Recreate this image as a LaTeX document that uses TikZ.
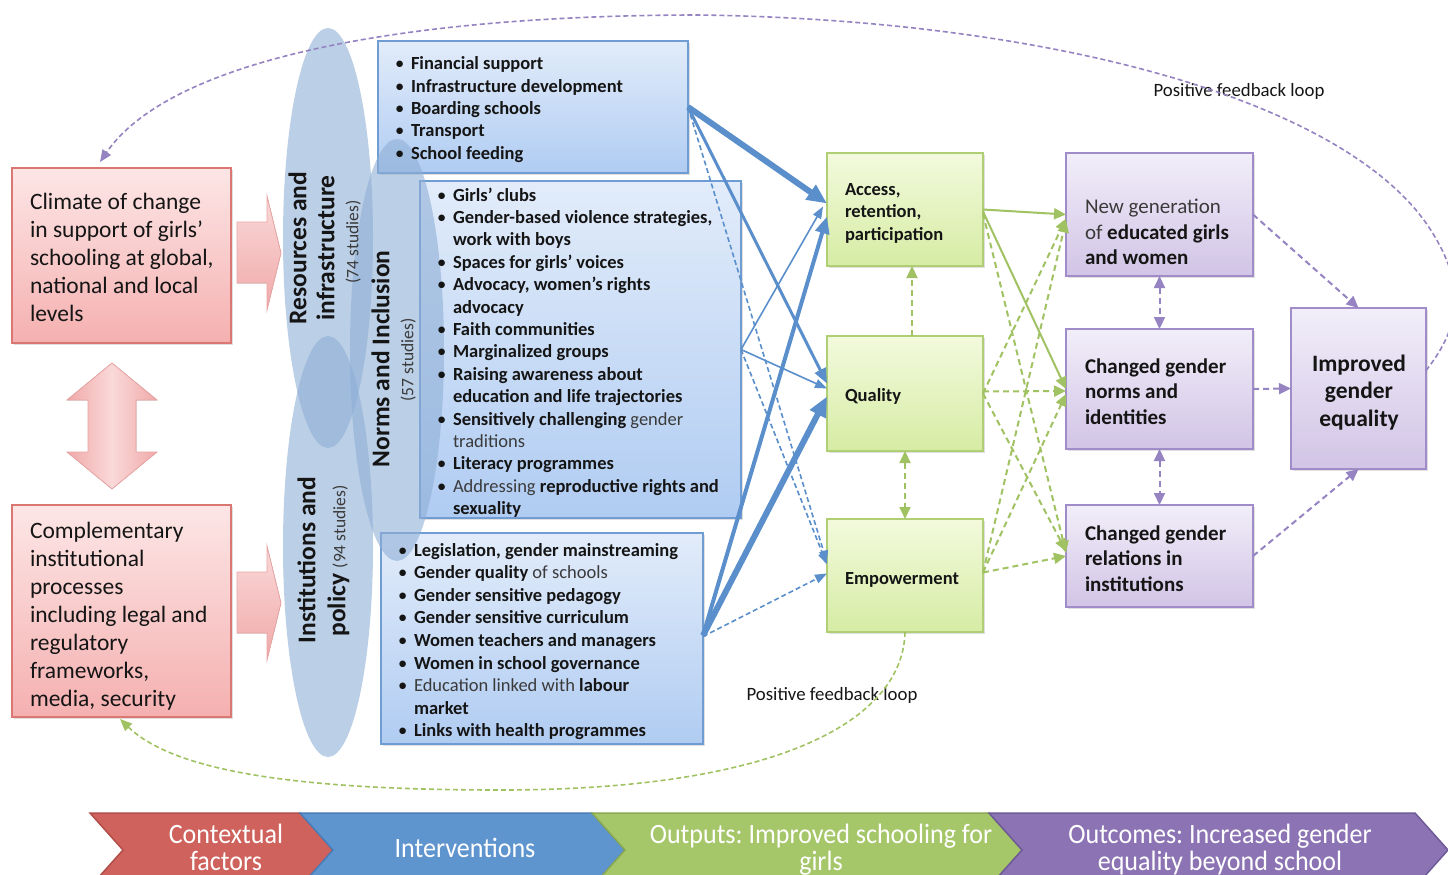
\documentclass[tikz,border=0pt]{standalone}
\usepackage{fontspec}
\setmainfont{Carlito}
\newfontfamily\chfont{Carlito}[FakeStretch=0.93]
\usetikzlibrary{arrows.meta,shadows,calc}
\frenchspacing

\definecolor{redT}{HTML}{FDE6E6}
\definecolor{redB}{HTML}{F5B0B0}
\definecolor{redbd}{HTML}{DA7773}
\definecolor{blueT}{HTML}{E2ECFA}
\definecolor{blueB}{HTML}{B0CCF2}
\definecolor{bluebd}{HTML}{6F9DD3}
\definecolor{ellc}{HTML}{8FAFD6}
\definecolor{greenT}{HTML}{F3FADD}
\definecolor{greenB}{HTML}{D6ECA4}
\definecolor{greenbd}{HTML}{B0CF74}
\definecolor{purT}{HTML}{F2EEF9}
\definecolor{purB}{HTML}{D1C4E6}
\definecolor{purbd}{HTML}{A08CC8}
\definecolor{blueln}{HTML}{5B8FCC}
\definecolor{greenln}{HTML}{A0C262}
\definecolor{purln}{HTML}{9583C2}
\definecolor{pinkA}{HTML}{F0A9A9}
\definecolor{pinkB}{HTML}{FAD9D9}
\definecolor{pinkbd}{HTML}{E9A5A5}
\definecolor{chred}{HTML}{CF625C}
\definecolor{chredbd}{HTML}{B14E49}
\definecolor{chblue}{HTML}{5F95CF}
\definecolor{chbluebd}{HTML}{4A7DB8}
\definecolor{chgreen}{HTML}{A6C66A}
\definecolor{chgreenbd}{HTML}{8AA951}
\definecolor{chpur}{HTML}{8C74B4}
\definecolor{chpurbd}{HTML}{6F5A98}
\definecolor{txtc}{HTML}{151515}
\definecolor{regc}{HTML}{3A3A3A}

\newcommand\bi{\makebox[16pt][l]{\mdseries•}}
\newcommand\bc{\hspace*{16pt}}
\newcommand\rg[1]{{\mdseries\color{regc}#1}}

\tikzset{
  bxbase/.style={anchor=north west, inner sep=0pt, outer sep=0pt, line width=1.3pt,
    drop shadow={shadow xshift=2pt,shadow yshift=-2pt,opacity=0.25}},
  redbox/.style={bxbase, draw=redbd, top color=redT, bottom color=redB},
  bluebox/.style={bxbase, draw=bluebd, top color=blueT, bottom color=blueB},
  greenbox/.style={bxbase, draw=greenbd, top color=greenT, bottom color=greenB},
  purbox/.style={bxbase, draw=purbd, top color=purT, bottom color=purB},
  txt/.style={anchor=base west, inner sep=0pt, outer sep=0pt, text=txtc},
  ctxt/.style={anchor=base, inner sep=0pt, outer sep=0pt, text=txtc},
  rot/.style={rotate=90, anchor=mid, inner sep=0pt, text=txtc},
  chtxt/.style={anchor=base, inner sep=0pt, text=white},
  blockarr/.style={draw=pinkbd, line width=0.8pt, top color=pinkB, bottom color=pinkA},
  bthick/.style={draw=blueln, line width=6pt, -{Triangle[length=20pt,width=17pt]}},
  bmid/.style={draw=blueln, line width=4pt, -{Triangle[length=17pt,width=14pt]}},
  bmed/.style={draw=blueln, line width=3pt, -{Triangle[length=15pt,width=12pt]}},
  bthin/.style={draw=blueln, line width=1.6pt, -{Triangle[length=12pt,width=9pt]}},
  bdash/.style={draw=blueln, line width=1.6pt, dash pattern=on 5pt off 3pt, -{Triangle[length=12pt,width=9pt]}},
  gsol/.style={draw=greenln, line width=2pt, -{Triangle[length=12pt,width=11pt]}},
  gdash/.style={draw=greenln, line width=2pt, dash pattern=on 6pt off 4pt, -{Triangle[length=12pt,width=11pt]}},
  gdd/.style={draw=greenln, line width=2pt, dash pattern=on 6pt off 4pt, {Triangle[length=12pt,width=11pt]}-{Triangle[length=12pt,width=11pt]}},
  pdash/.style={draw=purln, line width=2pt, dash pattern=on 6pt off 4pt, -{Triangle[length=12pt,width=11pt]}},
  pdd/.style={draw=purln, line width=2pt, dash pattern=on 6pt off 4pt, {Triangle[length=12pt,width=11pt]}-{Triangle[length=12pt,width=11pt]}},
  fbtop/.style={draw=purln, line width=1.6pt, dash pattern=on 5pt off 3pt, -{Triangle[length=12pt,width=10pt]}},
  fbbot/.style={draw=greenln, line width=1.6pt, dash pattern=on 5pt off 3pt, -{Triangle[length=12pt,width=10pt]}},
}

\begin{document}
\begin{tikzpicture}[x=1pt,y=-1pt]
\useasboundingbox (0,0) rectangle (1448,875);
\clip (0,0) rectangle (1448,875);
\fill[white] (0,0) rectangle (1448,875);

% ---------- contextual boxes ----------
\node[redbox, minimum width=219pt, minimum height=175pt] (clim) at (12,168) {};
\node[redbox, minimum width=219pt, minimum height=212pt] (comp) at (12,505) {};

% block arrows
\filldraw[blockarr] (237,222) -- (267,222) -- (267,196) -- (281,253) -- (267,310) -- (267,283) -- (237,283) -- cycle;
\filldraw[blockarr] (237,572) -- (267,572) -- (267,546) -- (281,603) -- (267,660) -- (267,633) -- (237,633) -- cycle;
\filldraw[draw=pinkbd, line width=0.8pt, left color=pinkA, right color=pinkA, middle color=pinkB]
  (112,363) -- (157,400) -- (136,400) -- (136,452) -- (157,452) -- (112,489) -- (67,452) -- (88,452) -- (88,400) -- (67,400) -- cycle;

% ---------- intervention boxes ----------
\node[bluebox, minimum width=310pt, minimum height=132pt] (res) at (378,41) {};
\node[bluebox, minimum width=321pt, minimum height=337pt] (norm) at (420,181) {};
\node[bluebox, minimum width=322pt, minimum height=211pt] (inst) at (381,533) {};

% ellipses
\fill[ellc, fill opacity=0.6] (328,238) ellipse [x radius=45, y radius=210];
\fill[ellc, fill opacity=0.6] (328,546.5) ellipse [x radius=45, y radius=210.5];
\fill[ellc, fill opacity=0.6] (397,350) ellipse [x radius=47, y radius=211];

% ---------- output and outcome boxes ----------
\node[greenbox, minimum width=156pt, minimum height=113pt] (acc) at (827,153) {};
\node[greenbox, minimum width=156pt, minimum height=115pt] (qual) at (827,336) {};
\node[greenbox, minimum width=156pt, minimum height=113pt] (emp) at (827,519) {};

\node[purbox, minimum width=187pt, minimum height=123pt] (newg) at (1066,153) {};
\node[purbox, minimum width=187pt, minimum height=120pt] (chn) at (1066,329) {};
\node[purbox, minimum width=187pt, minimum height=102pt] (chr) at (1066,505) {};
\node[purbox, minimum width=135pt, minimum height=161pt] (imp) at (1291,308) {};

% ---------- texts ----------
\node[txt] (climT) at (30,209) {\parbox[t]{200pt}{\fontsize{23.5}{28}\selectfont
  Climate of change\\ in support of girls’\\ schooling at global,\\ national and local\\ levels}};
\node[txt] (compT) at (30,538) {\parbox[t]{200pt}{\fontsize{23.5}{28}\selectfont
  Complementary\\ institutional\\ processes\\ including legal and\\ regulatory\\ frameworks,\\ media, security}};

\node[rot] (resA) at (304,248) {\fontsize{25.5}{25.5}\selectfont\bfseries Resources and};
\node[rot] (resB) at (332,248) {\fontsize{25.5}{25.5}\selectfont\bfseries infrastructure};
\node[rot] (resC) at (356,242) {\fontsize{17.5}{17.5}\selectfont\color{regc}(74 studies)};
\node[rot] (normA) at (387,359) {\fontsize{25.5}{25.5}\selectfont\bfseries Norms and Inclusion};
\node[rot] (normB) at (411,360) {\fontsize{17.5}{17.5}\selectfont\color{regc}(57 studies)};
\node[rot] (instA) at (313,560) {\fontsize{25.5}{25.5}\selectfont\bfseries Institutions and};
\node[rot] (instB) at (343,561) {\fontsize{25.5}{25.5}\selectfont\bfseries policy {\fontsize{17.5}{17.5}\selectfont\mdseries\color{regc}(94 studies)}};

\node[txt] (resT) at (395,70) {\parbox[t]{290pt}{\fontsize{18.5}{22.25}\selectfont\bfseries
  \bi Financial support\\ \bi Infrastructure development\\ \bi Boarding schools\\ \bi Transport\\ \bi School feeding}};
\node[txt] (normT) at (437,201) {\parbox[t]{310pt}{\fontsize{18.5}{22.4}\selectfont\bfseries
  \bi Girls’ clubs\\
  \bi Gender-based violence strategies,\\
  \bc work with boys\\
  \bi Spaces for girls’ voices\\
  \bi Advocacy, women’s rights\\
  \bc advocacy\\
  \bi Faith communities\\
  \bi Marginalized groups\\
  \bi Raising awareness about\\
  \bc education and life trajectories\\
  \bi Sensitively challenging \rg{gender}\\
  \bc \rg{traditions}\\
  \bi Literacy programmes\\
  \bi \rg{Addressing} reproductive rights and\\
  \bc sexuality}};
\node[txt] (instT) at (398,556) {\parbox[t]{310pt}{\fontsize{18.5}{22.6}\selectfont\bfseries
  \bi Legislation, gender mainstreaming\\
  \bi Gender quality \rg{of schools}\\
  \bi Gender sensitive pedagogy\\
  \bi Gender sensitive curriculum\\
  \bi Women teachers and managers\\
  \bi Women in school governance\\
  \bi \rg{Education linked with} labour\\
  \bc market\\
  \bi Links with health programmes}};

\node[txt] (accT) at (845,195) {\parbox[t]{140pt}{\fontsize{18.5}{22.5}\selectfont\bfseries Access,\\ retention,\\ participation}};
\node[txt] (qualT) at (845,401) {\fontsize{18.5}{22.5}\selectfont\bfseries Quality};
\node[txt] (empT) at (845,584) {\fontsize{18.5}{22.5}\selectfont\bfseries Empowerment};

\node[txt] (newgT) at (1085,199) {\parbox[t]{170pt}{\fontsize{21}{25.5}\selectfont \rg{New generation}\\ \rg{of} \textbf{educated girls}\\ \textbf{and women}}};
\node[txt] (chnT) at (1085,373) {\parbox[t]{170pt}{\fontsize{21}{25.5}\selectfont\bfseries Changed gender\\ norms and\\ identities}};
\node[txt] (chrT) at (1085,540) {\parbox[t]{170pt}{\fontsize{21}{25.5}\selectfont\bfseries Changed gender\\ relations in\\ institutions}};
\node[ctxt] (impT) at (1359,371) {\parbox[t]{130pt}{\centering\fontsize{23.5}{27.5}\selectfont\bfseries Improved\\ gender\\ equality}};

\node[text=txtc, inner sep=0pt] (fbtopT) at (1239,91) {\fontsize{18.8}{18.8}\selectfont Positive feedback loop};
\node[text=txtc, inner sep=0pt] (fbbotT) at (832,695) {\fontsize{18.8}{18.8}\selectfont Positive feedback loop};

% ---------- blue connectors ----------
\draw[bdash] (res.east) -- ([yshift=13pt]emp.west);
\draw[bdash] (norm.east) -- ([yshift=11pt]emp.west);
\draw[bdash] ([yshift=2pt]inst.east) -- ([yshift=2pt]emp.west);
\draw[bthin] (norm.east) -- ([xshift=-4pt,yshift=3pt]acc.west);
\draw[bthin] (norm.east) -- ([yshift=5pt]qual.west);
\draw[bmed] (res.east) -- ([yshift=10pt]qual.west);
\draw[bthick] (res.east) -- ([yshift=6pt]acc.west);
\draw[bmid] ([yshift=3pt]inst.east) -- ([yshift=-7pt]acc.west);
\draw[bthick] ([yshift=3pt]inst.east) -- ([yshift=-3pt]qual.west);

% ---------- green connectors ----------
\draw[gdash] ([xshift=7pt]qual.north) -- ([xshift=7pt]acc.south);
\draw[gdd] (qual.south) -- (emp.north);
\draw[gsol] (acc.east) -- (newg.west);
\draw[gsol] ([yshift=-2pt]acc.east) -- (chn.west);
\draw[gdash] ([yshift=-4pt]acc.east) -- ([yshift=3pt]chr.west);
\draw[gdash] (qual.east) -- ([yshift=-4pt]newg.west);
\draw[gdash] ([yshift=2pt]qual.east) -- ([yshift=-2pt]chn.west);
\draw[gdash] (qual.east) -- ([yshift=5pt]chr.west);
\draw[gdash] ([yshift=3pt]emp.east) -- ([yshift=-6pt]newg.west);
\draw[gdash] ([yshift=3pt]emp.east) -- ([yshift=-5pt]chn.west);
\draw[gdash] ([yshift=3pt]emp.east) -- (chr.west);

% ---------- purple connectors ----------
\draw[pdd] (newg.south) -- (chn.north);
\draw[pdd] (chn.south) -- (chr.north);
\draw[pdash] (chn.east) -- (imp.west);
\draw[pdash] (newg.east) -- (imp.north);
\draw[pdash] (chr.east) -- (imp.south);

% ---------- feedback loops ----------
\coordinate (fbA) at (1432,232);
\coordinate (fbB) at (700,15);
\coordinate (fbC) at (500,790);
\draw[fbtop] ([yshift=18pt]imp.east) .. controls (1462,325) and (1465,285) .. (fbA)
  .. controls (1350,100) and (1050,20) .. (fbB)
  .. controls (400,15) and (170,60) .. ([xshift=88pt,yshift=6pt]clim.north west);
\draw[fbbot] (emp.south) .. controls (903,720) and (780,790) .. (fbC)
  .. controls (300,790) and (175,772) .. ([xshift=108pt,yshift=-2pt]comp.south west);

% ---------- bottom chevrons ----------
\filldraw[draw=chredbd, fill=chred, line width=1.5pt] (90,813) -- (300,813) -- (333,850) -- (300,887) -- (90,887) -- (123,850) -- cycle;
\filldraw[draw=chbluebd, fill=chblue, line width=1.5pt] (300,813) -- (592,813) -- (625,850) -- (592,887) -- (300,887) -- (333,850) -- cycle;
\filldraw[draw=chgreenbd, fill=chgreen, line width=1.5pt] (592,813) -- (989,813) -- (1022,850) -- (989,887) -- (592,887) -- (625,850) -- cycle;
\filldraw[draw=chpurbd, fill=chpur, line width=1.5pt] (989,813) -- (1415,813) -- (1448,850) -- (1415,887) -- (989,887) -- (1022,850) -- cycle;

\node[chtxt] (ch1) at (226,843) {\parbox[t]{220pt}{\centering\chfont\fontsize{28}{27}\selectfont Contextual\\ factors}};
\node[chtxt] (ch2) at (465,857) {\chfont\fontsize{28}{27}\selectfont Interventions};
\node[chtxt] (ch3) at (821,843) {\parbox[t]{380pt}{\centering\chfont\fontsize{28}{27}\selectfont Outputs: Improved schooling for\\ girls}};
\node[chtxt] (ch4) at (1220,843) {\parbox[t]{380pt}{\centering\chfont\fontsize{28}{27}\selectfont Outcomes: Increased gender\\ equality beyond school}};
\end{tikzpicture}
\end{document}
